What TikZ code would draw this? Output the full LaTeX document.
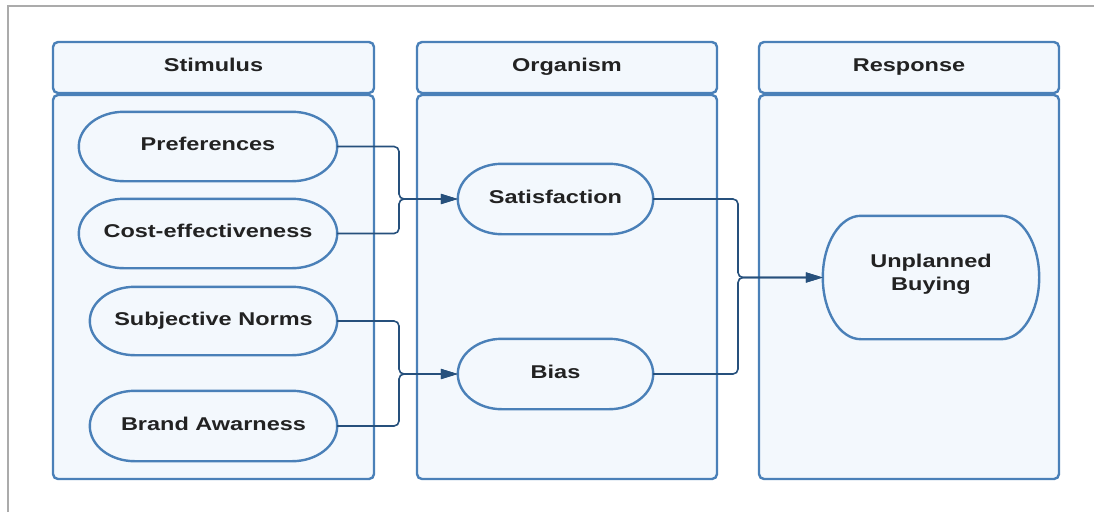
\documentclass[tikz,border=0pt]{standalone}
\usepackage{fontspec}
\setmainfont{Liberation Sans}[FakeStretch=1.27]
\usetikzlibrary{arrows.meta,calc}
\definecolor{edgeblue}{HTML}{4A80B8}
\definecolor{panelfill}{HTML}{F3F8FD}
\definecolor{linkblue}{HTML}{26507C}
\definecolor{inkdark}{HTML}{222222}
\definecolor{framegray}{HTML}{ABABAB}
\pgfdeclarelayer{back}
\pgfdeclarelayer{shapes}
\pgfsetlayers{back,shapes,main}

\begin{document}
\begin{tikzpicture}[x=1pt,y=1pt,
  labelfont/.style={text=inkdark, font=\fontsize{18.5}{23}\selectfont\bfseries},
  oneline/.style={text height=13pt, text depth=5pt},
  panel/.style={draw=edgeblue, fill=panelfill, line width=2.4pt, rounded corners=5pt, inner sep=0pt, labelfont, oneline},
  term/.style={inner sep=0pt, align=center, labelfont},
  outline/.style={draw=edgeblue, fill=panelfill, line width=2.4pt},
  link/.style={draw=linkblue, line width=1.6pt, rounded corners=5pt},
  tip/.style={-{Triangle[length=17pt,width=10pt]}}
]
\useasboundingbox (0,0) rectangle (1094,-512);

% outer frame
\draw[framegray, line width=1.5pt] (8,-512) -- (8,-6) -- (1094,-6);

% column panels
\begin{pgfonlayer}{back}
  \node[panel, minimum width=321pt, minimum height=51pt]  (stimhead) at (213.5,-67.5) {Stimulus};
  \node[panel, minimum width=321pt, minimum height=384pt] (stimbody) at (213.5,-287) {};
  \node[panel, minimum width=300pt, minimum height=51pt]  (orghead)  at (567,-67.5) {Organism};
  \node[panel, minimum width=300pt, minimum height=384pt] (orgbody)  at (567,-287) {};
  \node[panel, minimum width=300pt, minimum height=51pt]  (resphead) at (909,-67.5) {Response};
  \node[panel, minimum width=300pt, minimum height=384pt] (respbody) at (909,-287) {};
\end{pgfonlayer}

% terms
\node[term, oneline, minimum width=258pt, minimum height=69pt] (pref)  at (208,-146.5) {Preferences};
\node[term, oneline, minimum width=258pt, minimum height=69pt] (cost)  at (208,-233.5) {Cost-effectiveness};
\node[term, oneline, minimum width=247pt, minimum height=68pt] (subj)  at (213.5,-321) {Subjective Norms};
\node[term, oneline, minimum width=247pt, minimum height=70pt] (brand) at (213.5,-426) {Brand Awarness};
\node[term, oneline, minimum width=195pt, minimum height=70pt] (sat)   at (555.5,-199) {Satisfaction};
\node[term, oneline, minimum width=195pt, minimum height=70pt] (bias)  at (555.5,-374) {Bias};
\node[term, minimum width=216pt, minimum height=123pt] (buy)  at (931,-277.5) {Unplanned\\Buying\\[-13.5pt]};

% capsule outlines behind the terms
\begin{pgfonlayer}{shapes}
  \foreach \nm/\rx in {pref/45, cost/45, subj/45, brand/45, sat/44, bias/44, buy/38} {
    \path[outline] let \p1=(\nm.north west), \p2=(\nm.south east), \n1={(\y1-\y2)/2} in
      (\x1+\rx pt,\y1) -- (\x2-\rx pt,\y1)
      arc[start angle=90, end angle=-90, x radius=\rx pt, y radius=\n1]
      -- (\x1+\rx pt,\y2)
      arc[start angle=270, end angle=90, x radius=\rx pt, y radius=\n1]
      -- cycle;
  }
\end{pgfonlayer}

% junction points
\coordinate (jsat)  at (399,-199);
\coordinate (jbias) at (399,-374);
\coordinate (jbuy)  at (738,-277.5);

% connectors
\draw[link,tip] (pref.east)  -| (jsat)  -- (sat.west);
\draw[link,tip] (cost.east)  -| (jsat)  -- (sat.west);
\draw[link,tip] (subj.east)  -| (jbias) -- (bias.west);
\draw[link,tip] (brand.east) -| (jbias) -- (bias.west);
\draw[link,tip] (sat.east)   -| (jbuy)  -- (buy.west);
\draw[link,tip] (bias.east)  -| (jbuy)  -- (buy.west);
\end{tikzpicture}
\end{document}
